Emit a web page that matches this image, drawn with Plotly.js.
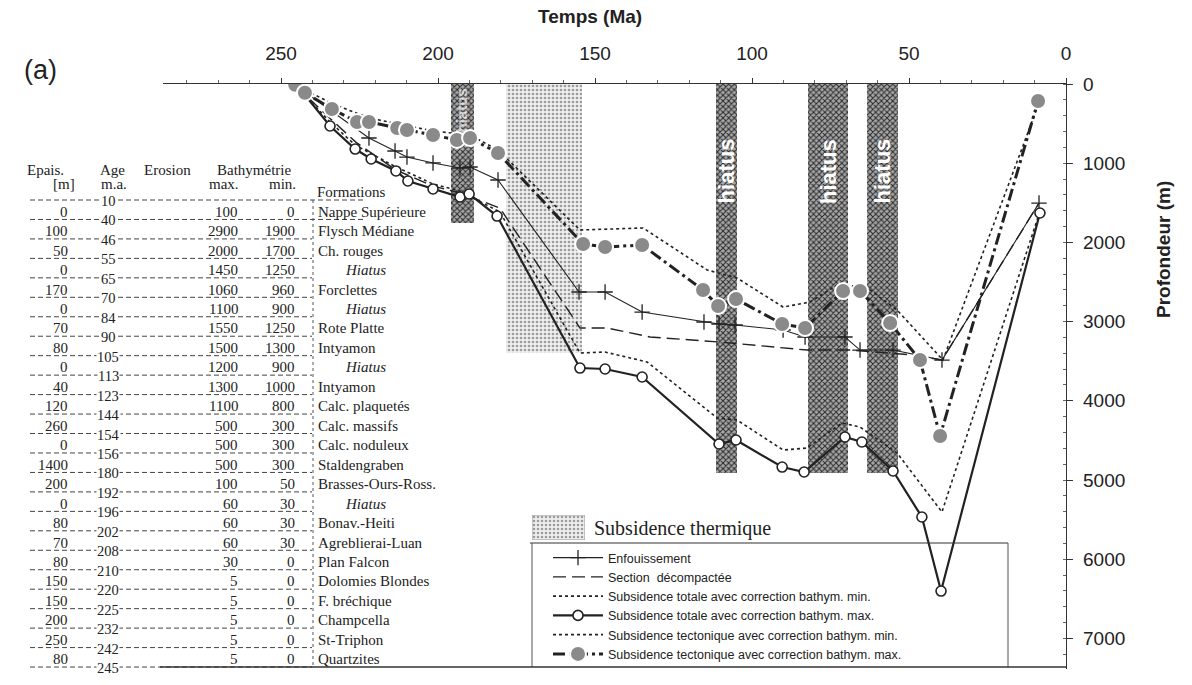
<!DOCTYPE html>
<html>
<head>
<meta charset="utf-8">
<script src="https://cdn.plot.ly/plotly-3.0.1.min.js"></script>
<style>html,body{margin:0;padding:0;background:#fff;}#chart{width:1192px;height:685px;}</style>
</head>
<body>
<div id="chart"></div>
<script>
// ---------- Data ----------
// Time in Ma, depth in m
const burialAge   = [245.5,222,213.7,209.9,201.6,193,189.8,180.9,155.1,146.8,135,115.3,110.5,105.4,90.1,83.1,70.4,65.6,55.1,39.5,8.6];
const burialDepth = [13,682,846,922,997,1061,1048,1212,2626,2626,2879,3005,3030,3043,3106,3194,3194,3359,3359,3485,1503];

const sectionAge   = [245.5,234,226,221,213.4,201.6,193,180.3,154.8,146.2,132.5,110.2,82.5,68.8,48.7,39.5,8.6];
const sectionDepth = [13,450,740,880,1086,1288,1376,1566,3081,3081,3194,3258,3359,3359,3422,3485,1503];

const totMinAge   = [245.5,234.4,226.4,213.4,201.6,193,180.3,154.8,146.8,133.4,111.1,104.8,90.1,82.5,71.3,65.6,53.8,39.5,8.9];
const totMinDepth = [13,480,770,1048,1263,1351,1616,3396,3384,3510,4217,4242,4621,4596,4280,4331,4659,5404,1679];

const totMaxAge   = [245.5,242.4,234.4,226.4,221.3,213.4,209.6,201.6,193,190.1,181.2,154.8,146.8,135,110.5,105.1,90.4,83.4,70.4,65,55.1,45.9,39.8,8.3];
const totMaxDepth = [13,139,530,821,947,1098,1225,1326,1427,1389,1667,3586,3598,3699,4545,4495,4836,4899,4457,4520,4886,5467,6402,1629];

const tecMinAge   = [245.5,233.4,222,201.6,189.8,180.9,154.8,134.7,114.3,104.8,90.1,81.5,72,62.4,53.8,39.2,9.2];
const tecMinDepth = [13,253,429,593,644,833,1843,1818,2348,2449,2816,2753,2513,2601,2854,3485,303];

const tecMaxAge   = [245.5,242.4,233.8,225.8,222,213,209.9,201.6,194,189.8,180.9,153.8,146.8,135,115.6,110.8,105.1,90.4,83.1,71,65.6,56,46.5,40.1,8.9];
const tecMaxDepth = [10,110,315,480,480,556,580,644,707,682,871,2020,2058,2033,2601,2803,2715,3030,3081,2614,2614,3018,3485,4444,215];

// Shaded periods (Ma): start, end, depth reached
const hiatusStart = [195.9,111.5,82.2,63.4];
const hiatusEnd   = [188.5,104.8,69.4,53.5];
const hiatusDepth = [1750,4910,4910,4910];
const thermalStart = [178.3];
const thermalEnd   = [154.1];
const thermalDepth = [3400];

// Table
const tableAges = [10,40,46,55,65,70,84,90,105,113,123,144,154,156,180,192,196,202,208,210,220,225,232,242,245];
const epais     = [0,100,50,0,170,0,70,80,0,40,120,260,0,1400,200,0,80,70,80,150,150,200,250,80];
const bathMax   = [100,2900,2000,1450,1060,1100,1550,1500,1200,1300,1100,500,500,500,100,60,60,60,30,5,5,5,5,5];
const bathMin   = [0,1900,1700,1250,960,900,1250,1300,900,1000,800,300,300,300,50,30,30,30,0,0,0,0,0,0];
const formations = ["Nappe Supérieure","Flysch Médiane","Ch. rouges","Hiatus","Forclettes","Hiatus","Rote Platte","Intyamon","Hiatus","Intyamon","Calc. plaquetés","Calc. massifs","Calc. noduleux","Staldengraben","Brasses-Ours-Ross.","Hiatus","Bonav.-Heiti","Agreblierai-Luan","Plan Falcon","Dolomies Blondes","F. bréchique","Champcella","St-Triphon","Quartzites"];

const legendNames = ["Enfouissement","Section  décompactée","Subsidence totale avec correction bathym. min.","Subsidence totale avec correction bathym. max.","Subsidence tectonique avec correction bathym. min.","Subsidence tectonique avec correction bathym. max."];
const thermalLabel = "Subsidence thermique";

// ---------- Layout helpers ----------
const L = 163, R = 1066, T = 84, B = 669;
const px = x => (x - L) / (R - L);
const py = y => (B - y) / (B - T);
const INK = '#222';
const SANS = 'Liberation Sans, Arial, sans-serif';
const SERIF = 'Liberation Serif, Times New Roman, serif';

const mid = (a, b) => a.map((v, i) => (v + b[i]) / 2);
const wid = (a, b) => a.map((v, i) => v - b[i]);

const thermalPattern = {shape:'.', fgcolor:'#9c9c9c', bgcolor:'#efefef', size:4, solidity:0.35};

const traces = [
  {type:'bar', x: mid(thermalStart, thermalEnd), y: thermalDepth, width: wid(thermalStart, thermalEnd), base: 0,
   showlegend:false, hoverinfo:'skip',
   marker:{color:'#e6e6e6', line:{width:0}, pattern: thermalPattern}},
  {type:'bar', x: mid(hiatusStart, hiatusEnd), y: hiatusDepth, width: wid(hiatusStart, hiatusEnd), base: 0,
   showlegend:false, hoverinfo:'skip',
   marker:{color:'#888', line:{width:0}, pattern:{shape:'x', fgcolor:'#2b2b2b', bgcolor:'#a8a8a8', size:4, solidity:0.45}}},
  {type:'scatter', mode:'lines', x: totMinAge, y: totMinDepth, name: legendNames[2], legendrank:3,
   line:{color:INK, width:1.6, dash:'3px,3px'}},
  {type:'scatter', mode:'lines', x: tecMinAge, y: tecMinDepth, name: legendNames[4], legendrank:5,
   line:{color:INK, width:1.6, dash:'3px,3px'}},
  {type:'scatter', mode:'lines', x: sectionAge, y: sectionDepth, name: legendNames[1], legendrank:2,
   line:{color:INK, width:1.4, dash:'13px,6px'}},
  {type:'scatter', mode:'lines+markers', x: burialAge, y: burialDepth, name: legendNames[0], legendrank:1,
   line:{color:INK, width:1.1},
   marker:{symbol:'cross-thin', size:11, color:INK, line:{width:1.3, color:INK}}},
  {type:'scatter', mode:'lines+markers', x: totMaxAge, y: totMaxDepth, name: legendNames[3], legendrank:4,
   line:{color:INK, width:2.2},
   marker:{symbol:'circle', size:10, color:'#fff', line:{width:1.6, color:INK}}},
  {type:'scatter', mode:'lines+markers', x: tecMaxAge, y: tecMaxDepth, name: legendNames[5], legendrank:6,
   line:{color:INK, width:3, dash:'12px,4px,3px,4px'},
   marker:{symbol:'circle', size:16, color:'#8a8a8a', line:{width:2, color:'#fff'}}},
  // key swatch for "Subsidence thermique", drawn on its own small axes
  {type:'bar', x:[0.5], y:[1], width:[1], base:0, xaxis:'x2', yaxis:'y2', showlegend:false, hoverinfo:'skip',
   marker:{color:'#e6e6e6', line:{width:1, color:'#999'}, pattern: thermalPattern}}
];

const annotations = [];
const shapes = [];
const txt = (x, y, text, opt) => annotations.push(Object.assign({xref:'paper', yref:'paper', x: px(x), y: py(y), text: text,
  showarrow:false, xanchor:'center', yanchor:'middle', font:{family:SERIF, size:15, color:INK}}, opt || {}));

// Titles
txt(590, 17, '<b>Temps (Ma)</b>', {font:{family:SANS, size:19, color:INK}});
txt(1163, 250, '<b>Profondeur (m)</b>', {textangle:-90, font:{family:SANS, size:19, color:INK}});
txt(40, 70, '(a)', {font:{family:SANS, size:27, color:INK}});

// Hiatus labels inside bands
const hiatusLabelY = [110, 171, 171, 171];
const hiatusLabelSize = [15, 22, 22, 22];
hiatusStart.forEach((s, i) => {
  const xc = 1066 - 3.14 * (s + hiatusEnd[i]) / 2;
  txt(xc, hiatusLabelY[i], '<b>hiatus</b>', {textangle:-90,
    font:{family:SANS, size:hiatusLabelSize[i], color: i === 0 ? 'rgba(255,255,255,0.7)' : '#fff'}});
});

// Table header
txt(45, 170, 'Epais.'); txt(64, 184, '[m]');
txt(112, 170, 'Age'); txt(114, 184, 'm.a.');
txt(167, 170, 'Erosion');
txt(254, 170, 'Bathymétrie');
txt(224, 184, 'max.'); txt(282, 184, 'min.');
txt(315, 192, 'Formations', {xanchor:'left'});

// Table lines and values
const row0 = 200, rowH = 19.46;
tableAges.forEach((a, i) => {
  const y = row0 + i * rowH;
  shapes.push({type:'line', xref:'paper', yref:'paper', x0: px(30), x1: px(i < 2 ? 365 : 312), y0: py(y), y1: py(y),
    line:{color:'#444', width:1, dash:'5px,3px'}});
  txt(108, y + 1, String(a), {bgcolor:'#fff', borderpad:0, font:{family:SERIF, size:14.5, color:INK}});
});
shapes.push({type:'line', xref:'paper', yref:'paper', x0: px(313), x1: px(313), y0: py(row0), y1: py(row0 + 24 * rowH),
  line:{color:'#555', width:1, dash:'3px,3px'}});
formations.forEach((f, i) => {
  const y = row0 + (i + 0.5) * rowH + 2;
  txt(70, y, String(epais[i]), {xanchor:'right'});
  txt(240, y, String(bathMax[i]), {xanchor:'right'});
  txt(297, y, String(bathMin[i]), {xanchor:'right'});
  if (f === 'Hiatus') txt(388, y, '<i>Hiatus</i>', {xanchor:'right'});
  else txt(316, y, f, {xanchor:'left'});
});

// Legend frame and "Subsidence thermique" key
txt(592, 528, thermalLabel, {xanchor:'left', font:{family:SERIF, size:20, color:INK}});
shapes.push({type:'line', xref:'paper', yref:'paper', x0: px(530), x1: px(1008), y0: py(543), y1: py(543), line:{color:'#333', width:1.2}});
shapes.push({type:'line', xref:'paper', yref:'paper', x0: px(532), x1: px(532), y0: py(543), y1: py(667), line:{color:'#555', width:1}});
shapes.push({type:'line', xref:'paper', yref:'paper', x0: px(1008), x1: px(1008), y0: py(543), y1: py(667), line:{color:'#555', width:1}});
shapes.push({type:'line', xref:'paper', yref:'paper', x0: px(160), x1: px(1066), y0: py(667), y1: py(667), line:{color:'#333', width:1.5}});

const layout = {
  width:1192, height:685,
  margin:{l:L, r:1192 - R, t:T, b:685 - B, pad:0},
  paper_bgcolor:'#fff', plot_bgcolor:'rgba(0,0,0,0)',
  barmode:'overlay', bargap:0,
  font:{family:SANS, color:INK},
  xaxis:{range:[287.6, 0], side:'top', showline:true, linecolor:'#333', linewidth:1.2,
    ticks:'outside', ticklen:5, tickwidth:1, tickcolor:'#333', tick0:0, dtick:50,
    minor:{dtick:10, ticks:'outside', ticklen:3, tickcolor:'#666'},
    showgrid:false, zeroline:false, ticklabelstandoff:10,
    tickfont:{family:SANS, size:19, color:INK}},
  yaxis:{range:[7386, 0], side:'right', showline:true, linecolor:'#333', linewidth:1.2,
    ticks:'outside', ticklen:6, tickwidth:1, tickcolor:'#333', tick0:0, dtick:1000,
    minor:{dtick:200, ticks:'inside', ticklen:3, tickcolor:'#666'},
    showgrid:false, zeroline:false, ticklabelstandoff:6,
    tickfont:{family:SANS, size:19, color:INK}},
  xaxis2:{domain:[px(532), px(585)], range:[0,1], anchor:'y2', visible:false, fixedrange:true},
  yaxis2:{domain:[py(540), py(515)], range:[0,1], anchor:'x2', visible:false, fixedrange:true},
  showlegend:true,
  legend:{x: px(548), y: py(543), xanchor:'left', yanchor:'top', bgcolor:'rgba(0,0,0,0)', borderwidth:0,
    itemwidth:50, tracegroupgap:0, font:{family:SANS, size:12.5, color:INK}},
  annotations: annotations,
  shapes: shapes
};

Plotly.newPlot('chart', traces, layout, {displayModeBar:false, staticPlot:true});
</script>
</body>
</html>
